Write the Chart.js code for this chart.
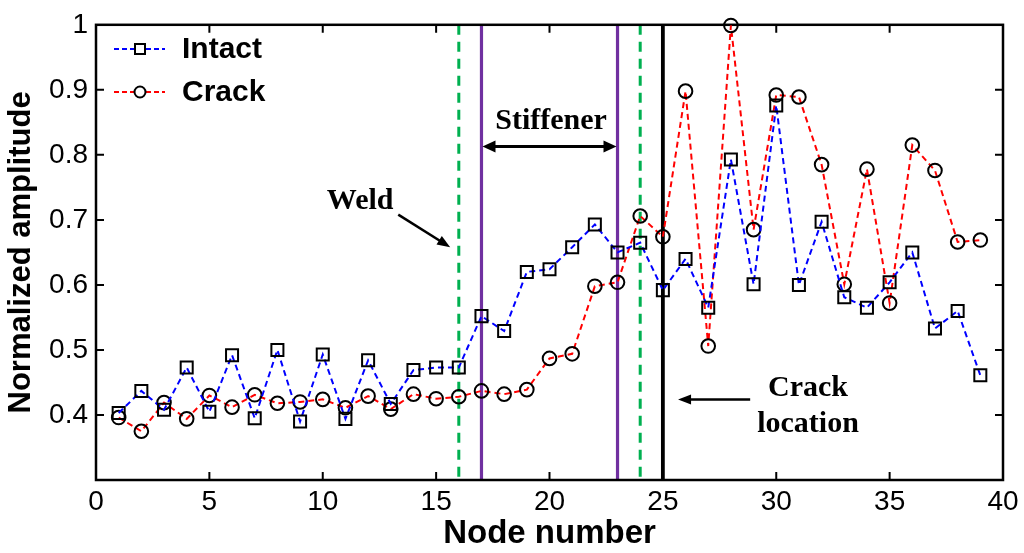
<!DOCTYPE html>
<html>
<head>
<meta charset="utf-8">
<script src="https://cdn.jsdelivr.net/npm/chart.js@4.4.0/dist/chart.umd.min.js"></script>
<style>
html,body{margin:0;padding:0;background:#fff;}
#wrap{width:1024px;height:553px;position:relative;}
</style>
</head>
<body>
<div id="wrap"><canvas id="c"></canvas></div>
<script>
// ---- data ----
const nodes = [1,2,3,4,5,6,7,8,9,10,11,12,13,14,15,16,17,18,19,20,21,22,23,24,25,26,27,28,29,30,31,32,33,34,35,36,37,38,39];
const intact = [0.403,0.437,0.408,0.473,0.405,0.492,0.395,0.500,0.390,0.493,0.394,0.484,0.417,0.469,0.473,0.473,0.552,0.529,0.620,0.624,0.658,0.693,0.650,0.665,0.592,0.640,0.565,0.793,0.601,0.876,0.600,0.697,0.581,0.565,0.604,0.650,0.533,0.560,0.461];
const crack  = [0.396,0.375,0.419,0.394,0.430,0.412,0.431,0.418,0.420,0.424,0.411,0.429,0.409,0.432,0.425,0.428,0.437,0.432,0.439,0.487,0.494,0.598,0.604,0.706,0.674,0.898,0.506,0.999,0.685,0.892,0.889,0.785,0.601,0.778,0.572,0.815,0.776,0.666,0.669];
const seriesNames = ['Intact','Crack'];
const xTicks = [0,5,10,15,20,25,30,35,40];
const yTicks = [0.4,0.5,0.6,0.7,0.8,0.9,1];
const weldNodes = [16,24];
const stiffenerNodes = [17,23];
const crackNode = 25;
const xTitle = 'Node number';
const yTitle = 'Normalized amplitude';
// annotation anchors (data coordinates)
const weldLabel = {text:'Weld', x:11.65, y:0.7166};
const weldArrow = {x1:13.33, y1:0.708, x2:15.62, y2:0.658};
const stiffLabel = {text:'Stiffener', x:20.07, y:0.840};
const stiffArrowY = 0.813;
const crackLabel = [{text:'Crack', x:31.4, y:0.4286},{text:'location', x:31.4, y:0.3733}];
const crackArrow = {x1:28.85, x2:25.67, y:0.4236};

const toXY = vals => vals.map((v,i)=>({x:nodes[i], y:v}));

function arrowHead(ctx, x1, y1, x2, y2, len, w){
  const a = Math.atan2(y2-y1, x2-x1);
  ctx.beginPath();
  ctx.moveTo(x2, y2);
  ctx.lineTo(x2 - len*Math.cos(a) + w*Math.sin(a), y2 - len*Math.sin(a) - w*Math.cos(a));
  ctx.lineTo(x2 - len*Math.cos(a) - w*Math.sin(a), y2 - len*Math.sin(a) + w*Math.cos(a));
  ctx.closePath();
  ctx.fill();
}

const decor = {
  id:'decor',
  beforeDatasetsDraw(chart){
    const {ctx, chartArea:a, scales:{x,y}} = chart;
    ctx.save();
    // vertical reference lines
    ctx.lineWidth = 3;
    ctx.strokeStyle = '#00b050';
    ctx.setLineDash([10,7]);
    weldNodes.forEach(n=>{
      const px = x.getPixelForValue(n);
      ctx.beginPath(); ctx.moveTo(px,a.top); ctx.lineTo(px,a.bottom); ctx.stroke();
    });
    ctx.setLineDash([]);
    ctx.strokeStyle = '#7030a0';
    ctx.lineWidth = 3.2;
    stiffenerNodes.forEach(n=>{
      const px = x.getPixelForValue(n);
      ctx.beginPath(); ctx.moveTo(px,a.top); ctx.lineTo(px,a.bottom); ctx.stroke();
    });
    ctx.strokeStyle = '#000';
    ctx.lineWidth = 3.8;
    const cx = x.getPixelForValue(crackNode);
    ctx.beginPath(); ctx.moveTo(cx,a.top); ctx.lineTo(cx,a.bottom); ctx.stroke();

    // frame
    ctx.lineWidth = 2.5;
    ctx.strokeRect(a.left, a.top, a.right-a.left, a.bottom-a.top);
    // inward tick marks
    const tl = 8;
    ctx.lineWidth = 2;
    ctx.beginPath();
    xTicks.forEach(v=>{
      if (v===x.min || v===x.max) return;
      const px = x.getPixelForValue(v);
      ctx.moveTo(px,a.bottom); ctx.lineTo(px,a.bottom-tl);
      ctx.moveTo(px,a.top); ctx.lineTo(px,a.top+tl);
    });
    yTicks.forEach(v=>{
      if (v>=y.max) return;
      const py = y.getPixelForValue(v);
      ctx.moveTo(a.left,py); ctx.lineTo(a.left+tl,py);
      ctx.moveTo(a.right,py); ctx.lineTo(a.right-tl,py);
    });
    ctx.stroke();

    // annotations
    ctx.fillStyle = '#000';
    ctx.font = 'bold 30px "Liberation Serif", "Times New Roman", serif';
    ctx.textAlign = 'center';
    ctx.textBaseline = 'alphabetic';
    [weldLabel, stiffLabel, ...crackLabel].forEach(l=>{
      ctx.fillText(l.text, x.getPixelForValue(l.x), y.getPixelForValue(l.y));
    });
    ctx.lineWidth = 2.5;
    // weld arrow
    let x1 = x.getPixelForValue(weldArrow.x1), y1 = y.getPixelForValue(weldArrow.y1);
    let x2 = x.getPixelForValue(weldArrow.x2), y2 = y.getPixelForValue(weldArrow.y2);
    const d = Math.hypot(x2-x1,y2-y1);
    ctx.beginPath(); ctx.moveTo(x1,y1); ctx.lineTo(x2-8*(x2-x1)/d, y2-8*(y2-y1)/d); ctx.stroke();
    arrowHead(ctx,x1,y1,x2,y2,13,5);
    // stiffener double arrow
    const sy = y.getPixelForValue(stiffArrowY);
    const sx1 = x.getPixelForValue(stiffenerNodes[0])+1, sx2 = x.getPixelForValue(stiffenerNodes[1])-1;
    ctx.lineWidth = 3;
    ctx.beginPath(); ctx.moveTo(sx1+8,sy); ctx.lineTo(sx2-8,sy); ctx.stroke();
    arrowHead(ctx,sx2,sy,sx1,sy,13,6);
    arrowHead(ctx,sx1,sy,sx2,sy,13,6);
    // crack arrow
    const cy = y.getPixelForValue(crackArrow.y);
    const ax1 = x.getPixelForValue(crackArrow.x1), ax2 = x.getPixelForValue(crackArrow.x2);
    ctx.lineWidth = 2.5;
    ctx.beginPath(); ctx.moveTo(ax1,cy); ctx.lineTo(ax2+8,cy); ctx.stroke();
    arrowHead(ctx,ax1,cy,ax2,cy,13,5);

    // axis titles
    ctx.font = 'bold 33px "Liberation Sans", Arial, sans-serif';
    ctx.textBaseline = 'middle';
    ctx.fillText(xTitle, (a.left+a.right)/2, 534);
    ctx.save();
    ctx.translate(21, (a.top+a.bottom)/2);
    ctx.rotate(-Math.PI/2);
    ctx.font = 'bold 31px "Liberation Sans", Arial, sans-serif';
    ctx.fillText(yTitle, 0, 0);
    ctx.restore();
    ctx.restore();
  },
  afterDatasetsDraw(chart){
    // legend
    const {ctx} = chart;
    ctx.save();
    const rows = [
      {name:seriesNames[0], color:'#0000ff', style:'rect', y:49},
      {name:seriesNames[1], color:'#ff0000', style:'circle', y:92}
    ];
    rows.forEach(r=>{
      ctx.strokeStyle = r.color; ctx.lineWidth = 2; ctx.setLineDash([5,3]);
      ctx.beginPath(); ctx.moveTo(114,r.y); ctx.lineTo(165,r.y); ctx.stroke();
      ctx.setLineDash([]);
      ctx.fillStyle='#fff'; ctx.strokeStyle='#000'; ctx.lineWidth=2;
      if (r.style==='rect'){ ctx.fillRect(135,r.y-5,10,10); ctx.strokeRect(135,r.y-5,10,10); }
      else { ctx.beginPath(); ctx.arc(140,r.y,5.5,0,Math.PI*2); ctx.fill(); ctx.stroke(); }
      ctx.fillStyle='#000';
      ctx.font = 'bold 30px "Liberation Sans", Arial, sans-serif';
      ctx.textAlign='left'; ctx.textBaseline='middle';
      ctx.fillText(r.name, 182, r.y+1);
    });
    ctx.restore();
  }
};

new Chart(document.getElementById('c'), {
  type:'line',
  data:{
    datasets:[
      {label:seriesNames[0], data:toXY(intact), borderColor:'#0000ff', borderWidth:2, borderDash:[6,4],
       pointStyle:'rect', pointRadius:8.5, pointBorderColor:'#000', pointBackgroundColor:'rgba(0,0,0,0)', pointBorderWidth:2,
       fill:false, tension:0, clip:false},
      {label:seriesNames[1], data:toXY(crack), borderColor:'#ff0000', borderWidth:2, borderDash:[6,4],
       pointStyle:'circle', pointRadius:6.8, pointBorderColor:'#000', pointBackgroundColor:'rgba(0,0,0,0)', pointBorderWidth:2,
       fill:false, tension:0, clip:false}
    ]
  },
  options:{
    responsive:true, maintainAspectRatio:false, animation:false,
    layout:{padding:{left:0,right:21,top:16,bottom:0}},
    plugins:{legend:{display:false}, tooltip:{enabled:false}},
    events:[],
    scales:{
      x:{type:'linear', min:0, max:40,
         afterBuildTicks:s=>{s.ticks = xTicks.map(v=>({value:v}));},
         afterFit:s=>{s.height = 73;},
         grid:{display:false, drawTicks:false}, border:{display:false},
         ticks:{padding:5, color:'#000', font:{family:'"Liberation Sans", Arial, sans-serif', size:28}, maxRotation:0, autoSkip:false}},
      y:{type:'linear', min:0.3, max:1,
         afterBuildTicks:s=>{s.ticks = yTicks.map(v=>({value:v}));},
         afterFit:s=>{s.width = 96;},
         grid:{display:false, drawTicks:false}, border:{display:false},
         ticks:{padding:8, color:'#000', font:{family:'"Liberation Sans", Arial, sans-serif', size:28},
                callback:v=> (Math.round(v*10)/10===1 ? '1' : (Math.round(v*10)/10).toFixed(1))}}
    }
  },
  plugins:[decor]
});
</script>
</body>
</html>
